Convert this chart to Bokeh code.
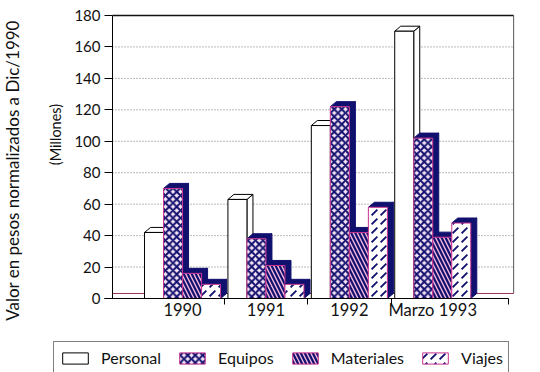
import numpy as np
from bokeh.plotting import figure
from bokeh.models import (Range1d, FixedTicker, Legend, LegendItem, Label, LinearAxis)
from bokeh.embed import file_html
from bokeh.resources import INLINE

# ---- data ----
categories = ["1990", "1991", "1992", "Marzo 1993"]
series_names = ["Personal", "Equipos", "Materiales", "Viajes"]
personal = [42, 63, 110, 170]
equipos = [70, 38, 122, 102]
materiales = [16, 21, 42, 39]
viajes = [9, 9, 58, 48]
y_ticks = [0, 20, 40, 60, 80, 100, 120, 140, 160, 180]
y_title = "Valor en pesos normalizados a Dic/1990"
y_subtitle = "(Millones)"

# ---- styles ----
NAVY = "#10106e"
PINK = "#c8358f"
FONT = "Lato"
TXT = "#111111"
styles = {
    "Personal": dict(fill_color="white", line_color="black", hatch_pattern=None,
                     side_fill="white", side_line="black"),
    "Equipos": dict(fill_color="#f8e4f4", line_color=PINK, hatch_pattern="x",
                    hatch_color=NAVY, hatch_weight=2.0, hatch_scale=7.5,
                    side_fill=NAVY, side_line=NAVY),
    "Materiales": dict(fill_color="#f5b8dc", line_color=PINK, hatch_pattern="\\",
                       hatch_color=NAVY, hatch_weight=2.2, hatch_scale=8,
                       side_fill=NAVY, side_line=NAVY),
    "Viajes": dict(fill_color="white", line_color=PINK, hatch_pattern=",",
                   hatch_color=NAVY, hatch_weight=1.8, hatch_scale=9,
                   side_fill=NAVY, side_line=NAVY),
}

# ---- geometry (pixel layout of the 540x372 canvas) ----
PX_X = 83.4            # px per category step
PX_Y = 283 / 180.0     # px per value unit
X_MIN, X_MAX = -0.84, 3.97         # plot-area extent in data units
LEFT_PX, BOTTOM_PX = 112, 298      # where X_MIN / y=0 sit on the canvas
W = 0.228   # bar width (data units)
DX = 0.072  # 3D depth, x
DY = 3.2    # 3D depth, y

x_range = Range1d(X_MIN - LEFT_PX / PX_X, X_MIN + (540 - LEFT_PX) / PX_X)
y_range = Range1d(-(372 - BOTTOM_PX) / PX_Y, BOTTOM_PX / PX_Y)

p = figure(width=540, height=372, x_range=x_range, y_range=y_range,
           output_backend="svg", toolbar_location=None,
           x_axis_location=None, y_axis_location=None,
           min_border_left=0, min_border_right=0, min_border_top=0, min_border_bottom=0)
p.background_fill_color = "white"
p.border_fill_color = "white"
p.outline_line_color = None
p.grid.visible = False

# back wall: dotted grid lines, top and right borders, floor edge
grid_vals = y_ticks[1:-1]
p.segment(x0=[X_MIN] * len(grid_vals), x1=[X_MAX] * len(grid_vals), y0=grid_vals, y1=grid_vals,
          line_color="#777777", line_dash="1 2", line_width=1)
p.segment(x0=[X_MIN], x1=[X_MAX], y0=[y_ticks[-1]], y1=[y_ticks[-1]], line_color="#111111", line_width=1.5)
p.segment(x0=[X_MAX], x1=[X_MAX], y0=[DY], y1=[y_ticks[-1]], line_color="#555555", line_width=1)
p.segment(x0=[X_MIN], x1=[X_MAX], y0=[DY], y1=[DY], line_color="#9b3050", line_width=1)

x_idx = np.arange(len(categories))
data = [personal, equipos, materiales, viajes]
renderers = []
for j, (name, vals) in enumerate(zip(series_names, data)):
    st = styles[name]
    vals = np.array(vals, dtype=float)
    left = x_idx - 2 * W + j * W
    right = left + W
    side_xs = [[r, r + DX, r + DX, r] for r in right]
    side_ys = [[0, DY, v + DY, v] for v in vals]
    top_xs = [[l, l + DX, r + DX, r] for l, r in zip(left, right)]
    top_ys = [[v, v + DY, v + DY, v] for v in vals]
    p.patches(side_xs, side_ys, fill_color=st["side_fill"], line_color=st["side_line"], line_width=1)
    p.patches(top_xs, top_ys, fill_color=st["side_fill"], line_color=st["side_line"], line_width=1)
    kw = dict(fill_color=st["fill_color"], line_color=st["line_color"], line_width=1)
    if st["hatch_pattern"]:
        kw.update(hatch_pattern=st["hatch_pattern"], hatch_color=st["hatch_color"],
                  hatch_weight=st["hatch_weight"], hatch_scale=st["hatch_scale"])
    renderers.append(p.vbar(x=left + W / 2, width=W, top=vals, bottom=0, **kw))

# y axis, drawn at the left wall
yax = LinearAxis(fixed_location=X_MIN, bounds=(y_ticks[0], y_ticks[-1]),
                 ticker=FixedTicker(ticks=y_ticks))
yax.major_tick_out = 8
yax.major_tick_in = 0
yax.minor_tick_line_color = None
yax.major_label_standoff = 4
yax.major_label_text_font = FONT
yax.major_label_text_font_size = "15px"
yax.major_label_text_color = TXT
yax.axis_line_color = "black"
p.add_layout(yax, "left")

# x axis, drawn at y = 0
xax = LinearAxis(fixed_location=0, bounds=(X_MIN - 0.1, 3.91),
                 ticker=FixedTicker(ticks=[float(i) for i in x_idx],
                                    minor_ticks=[float(i) + 0.5 for i in x_idx[:-1]] + [3.91]))
xax.major_label_overrides = {float(i): c for i, c in zip(x_idx, categories)}
xax.major_tick_out = 0
xax.major_tick_in = 0
xax.minor_tick_out = 6
xax.minor_tick_in = 0
xax.minor_tick_line_color = "black"
xax.major_label_standoff = -5
xax.major_label_text_font = FONT
xax.major_label_text_font_size = "16.5px"
xax.major_label_text_color = TXT
xax.axis_line_color = "black"
p.add_layout(xax, "below")

# y titles
p.add_layout(Label(x=X_MIN + (12 - LEFT_PX) / PX_X, y=(BOTTOM_PX - 170) / PX_Y, text=y_title,
                   angle=np.pi / 2, text_align="center", text_baseline="middle",
                   text_font=FONT, text_font_size="17px", text_color=TXT))
p.add_layout(Label(x=X_MIN + (55 - LEFT_PX) / PX_X, y=(BOTTOM_PX - 134) / PX_Y, text=y_subtitle,
                   angle=np.pi / 2, text_align="center", text_baseline="middle",
                   text_font=FONT, text_font_size="14.5px", text_color=TXT))

# legend
legend = Legend(items=[LegendItem(label=n, renderers=[r]) for n, r in zip(series_names, renderers)],
                orientation="horizontal", location=(53, -2),
                glyph_width=32, glyph_height=14, label_height=21, label_standoff=10, spacing=15,
                padding=5, margin=0,
                label_text_font=FONT, label_text_font_size="16px", label_text_color=TXT,
                border_line_color="black", border_line_width=1.5,
                background_fill_color="white", background_fill_alpha=1)
p.add_layout(legend, "center")

open("out.html", "w").write(file_html(p, INLINE))
